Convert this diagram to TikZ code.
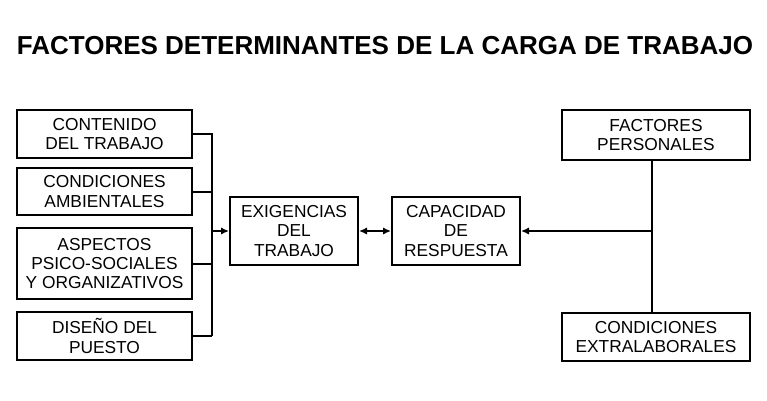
\documentclass[tikz,border=0pt]{standalone}
\usepackage{fontspec}
\setmainfont{Liberation Sans}
\usetikzlibrary{arrows.meta}
\usetikzlibrary{positioning}

\begin{document}
\begin{tikzpicture}[x=0.75pt,y=-0.75pt,
					caja/.style={draw, line width=1.5pt, align=center, inner sep=0pt, font=\fontsize{13}{14.5}\selectfont},
					linea/.style={line width=1.5pt},
					flecha/.style={line width=1.5pt, -{Latex[length=6pt,width=5.5pt]}},
				]
					\useasboundingbox (0,0) rectangle (767,400);
					\node[font=\bfseries\fontsize{19.5}{21}\selectfont] (titulo) at (385,46) {FACTORES DETERMINANTES DE LA CARGA DE TRABAJO};

					% bloque izquierdo
					\node[caja, minimum width=175*0.75pt, minimum height=48*0.75pt] (contenido) at (104.5,134) {CONTENIDO\\DEL TRABAJO};
					\node[caja, minimum width=175*0.75pt, minimum height=47*0.75pt] (ambientales) at (104.5,191.5) {CONDICIONES\\AMBIENTALES};
					\node[caja, minimum width=175*0.75pt, minimum height=71*0.75pt] (aspectos) at (104.5,263.5) {ASPECTOS\\PSICO-SOCIALES\\Y ORGANIZATIVOS};
					\node[caja, minimum width=175*0.75pt, minimum height=48*0.75pt] (diseno) at (104.5,336) {DISEÑO DEL\\PUESTO};

					% bloque central
					\node[caja, minimum width=128*0.75pt, minimum height=68*0.75pt] (exigencias) at (294,231) {EXIGENCIAS\\DEL\\TRABAJO};
					\node[caja, minimum width=128*0.75pt, minimum height=68*0.75pt] (capacidad) at (456,231) {CAPACIDAD\\DE\\RESPUESTA};

					% bloque derecho
					\node[caja, minimum width=188*0.75pt, minimum height=50*0.75pt] (personales) at (656,135) {FACTORES\\PERSONALES};
					\node[caja, minimum width=188*0.75pt, minimum height=48*0.75pt] (extralaborales) at (656,337) {CONDICIONES\\EXTRALABORALES};

					\coordinate (llave) at (212,231);
					\coordinate (union) at (652,231);

					\draw[linea] (contenido.east) -| (212,336);
					\draw[linea] (ambientales.east) -- (ambientales.east -| llave);
					\draw[linea] (aspectos.east) -- (aspectos.east -| llave);
					\draw[linea] (diseno.east) -- (diseno.east -| llave);
					\draw[flecha] (llave) -- (exigencias.west);
					\draw[flecha, {Latex[length=6pt,width=5.5pt]}-{Latex[length=6pt,width=5.5pt]}] (exigencias.east) -- (capacidad.west);

					\draw[linea] (personales.south -| union) -- (extralaborales.north -| union);
					\draw[flecha] (union) -- (capacidad.east);
				\end{tikzpicture}
\end{document}
